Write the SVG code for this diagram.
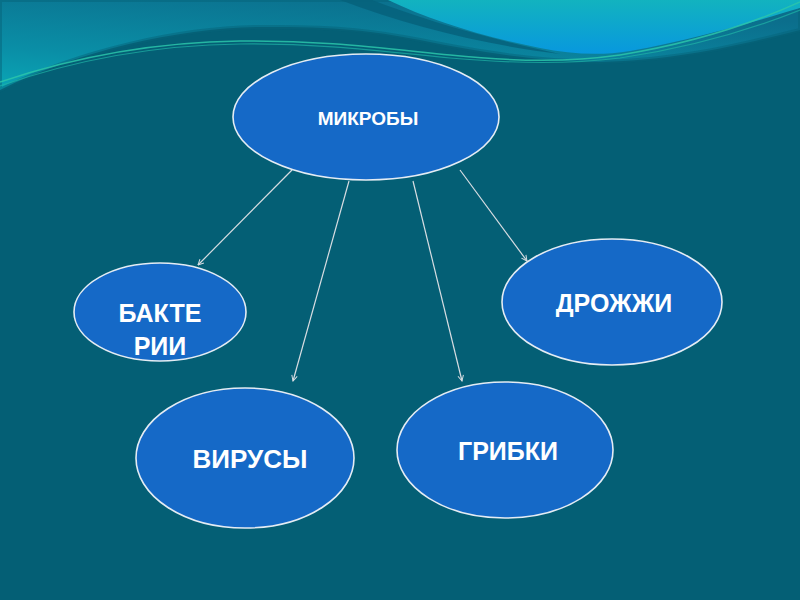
<svg xmlns="http://www.w3.org/2000/svg" width="800" height="600" viewBox="0 0 800 600">
<defs>
<linearGradient id="gTeal" x1="0" y1="1" x2="0.6" y2="0">
<stop offset="0" stop-color="#0aa6b6"/>
<stop offset="0.35" stop-color="#0a8ea6"/>
<stop offset="1" stop-color="#0b6e8c"/>
</linearGradient>
<linearGradient id="gBright" x1="0" y1="0" x2="0" y2="1">
<stop offset="0" stop-color="#12b3bf"/>
<stop offset="1" stop-color="#0898de"/>
</linearGradient>
<marker id="arr" viewBox="0 0 10 10" refX="9" refY="5" markerWidth="7" markerHeight="7" orient="auto" markerUnits="userSpaceOnUse">
<path d="M1,1 L9,5 L1,9" fill="none" stroke="#d8dde2" stroke-width="1.4"/>
</marker>
<style>
.node ellipse { fill: #1569c7; stroke: #e4ecf4; stroke-width: 1.6; }
.node text { fill: #ffffff; font-family: "Liberation Sans", Arial, sans-serif; font-weight: bold; text-anchor: middle; }
.edge { stroke: #d8dde2; stroke-width: 1.2; fill: none; marker-end: url(#arr); }
</style>
</defs>
<rect width="800" height="600" fill="#045f75"/>
<path d="M0,0 H800 V30 C740,45 680,60 600,62 C540,62 480,52 420,40 C380,32 340,26 260,27 C180,28 80,50 0,90 Z" fill="url(#gTeal)"/>
<path d="M0,0 H800 V30 C740,45 680,60 600,62 C540,62 480,52 420,40 C380,32 340,26 260,27 C180,28 80,50 0,90 Z" fill="none" stroke="#056479" stroke-width="4" opacity="0.5"/>
<path d="M340,0 L372,0 C425,20 485,38 560,54 C480,44 410,26 340,0 Z" fill="#06627b" opacity="0.85"/>
<path d="M388,0 C430,20 480,36 540,48 C570,54 600,56 630,51 C700,38 760,20 800,8 V0 Z" fill="url(#gBright)"/>
<path d="M0,82 C80,55 160,42 240,41 C320,40 380,48 450,55 C520,62 570,62 620,55 C700,42 760,20 800,2" fill="none" stroke="#2cc6aa" stroke-width="1.5" opacity="0.85"/>
<path d="M0,86 C80,58 160,45 240,44 C320,43 380,51 450,58 C520,64 570,64 620,58 C700,46 760,26 800,10" fill="none" stroke="#20b3a6" stroke-width="1.2" opacity="0.7"/>
<g id="connectors">
<line class="edge" x1="292" y1="170" x2="198" y2="265"/>
<line class="edge" x1="349" y1="181" x2="293" y2="381"/>
<line class="edge" x1="413" y1="181" x2="462" y2="381"/>
<line class="edge" x1="460" y1="170" x2="527" y2="261"/>
</g>
<g id="mikroby" class="node">
<ellipse cx="366" cy="117" rx="133" ry="63"/>
<text x="368" y="125" font-size="19">МИКРОБЫ</text>
</g>
<g id="bakterii" class="node">
<ellipse cx="160" cy="312" rx="86" ry="49"/>
<text x="160" y="322" font-size="25">БАКТЕ</text>
<text x="160" y="355" font-size="25">РИИ</text>
</g>
<g id="virusy" class="node">
<ellipse cx="245" cy="458" rx="109" ry="70"/>
<text x="250" y="468" font-size="26">ВИРУСЫ</text>
</g>
<g id="gribki" class="node">
<ellipse cx="505" cy="450" rx="108" ry="68"/>
<text x="508" y="460" font-size="25">ГРИБКИ</text>
</g>
<g id="drozhzhi" class="node">
<ellipse cx="612" cy="302" rx="110" ry="63"/>
<text x="614" y="312" font-size="25">ДРОЖЖИ</text>
</g>
</svg>
